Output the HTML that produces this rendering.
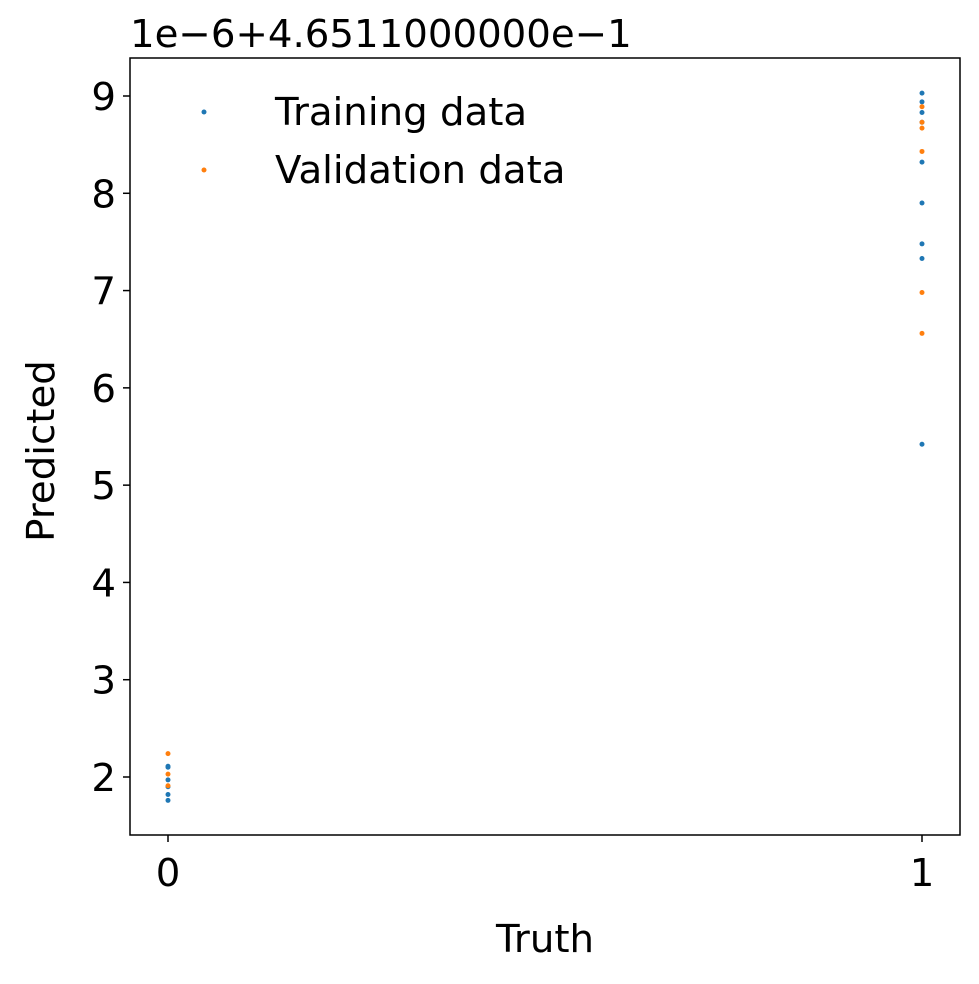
<!DOCTYPE html>
<html><head><meta charset="utf-8"><style>
body{margin:0;background:#fff}
svg text{font-family:"DejaVu Sans","Liberation Sans",sans-serif;fill:#000}
</style></head><body>
<svg id="chart" width="979" height="979" viewBox="0 0 979 979" xmlns="http://www.w3.org/2000/svg">
<rect x="0" y="0" width="979" height="979" fill="#fff"/>
<g id="marks"></g>
<rect x="130" y="58" width="830" height="777" fill="none" stroke="#000" stroke-width="1.5"/>
<g id="axes"></g>
<text x="130" y="47" font-size="38.7">1e−6+4.6511000000e−1</text>
<text x="545" y="952" font-size="38.7" text-anchor="middle">Truth</text>
<text transform="translate(54,451) rotate(-90)" font-size="38.7" text-anchor="middle">Predicted</text>
<g>
<circle cx="204" cy="112" r="2.5" fill="#1f77b4"/>
<text x="275" y="125" font-size="38.7">Training data</text>
<circle cx="204" cy="170" r="2.5" fill="#ff7f0e"/>
<text x="275" y="183" font-size="38.7">Validation data</text>
</g>
</svg>
<script>
const xTicks=[0,1];
const yTicks=[2,3,4,5,6,7,8,9];
const trainX=[1,1,1,1,1,1,1,1,1,0,0,0,0,0,0];
const trainY=[9.03,8.94,8.83,8.73,8.32,7.90,7.48,7.33,5.42,2.11,2.10,1.97,1.90,1.82,1.76];
const valX=[1,1,1,1,1,1,0,0,0];
const valY=[8.89,8.73,8.67,8.43,6.98,6.56,2.24,2.03,1.91];
const NS="http://www.w3.org/2000/svg";
const sx=v=>168+v*(922-168);
const sy=v=>777-(v-2)*(777-96)/7;
const axes=document.getElementById('axes');
const marks=document.getElementById('marks');
function mk(tag,attrs,parent){const e=document.createElementNS(NS,tag);for(const k in attrs)e.setAttribute(k,attrs[k]);parent.appendChild(e);return e;}
xTicks.forEach(t=>{
 const l=mk('line',{x1:sx(t),x2:sx(t),y1:835,y2:842,stroke:'#000','stroke-width':1.5},axes);
 
 
 const tx=mk('text',{x:sx(t),y:886,'font-size':38.7,'text-anchor':'middle'},axes);
 tx.textContent=t;
 
 
});
yTicks.forEach(t=>{
 const l=mk('line',{x1:123,x2:130,y1:sy(t),y2:sy(t),stroke:'#000','stroke-width':1.5},axes);
 
 
 const tx=mk('text',{x:116,y:sy(t)+14,'font-size':38.7,'text-anchor':'end'},axes);
 tx.textContent=t;
 
 
});
trainX.forEach((x,i)=>{
 const c=mk('circle',{cx:sx(x),cy:sy(trainY[i]),r:2.5,fill:'#1f77b4'},marks);
 
 
});
valX.forEach((x,i)=>{
 const c=mk('circle',{cx:sx(x),cy:sy(valY[i]),r:2.5,fill:'#ff7f0e'},marks);
 
 
});
</script>
</body></html>
